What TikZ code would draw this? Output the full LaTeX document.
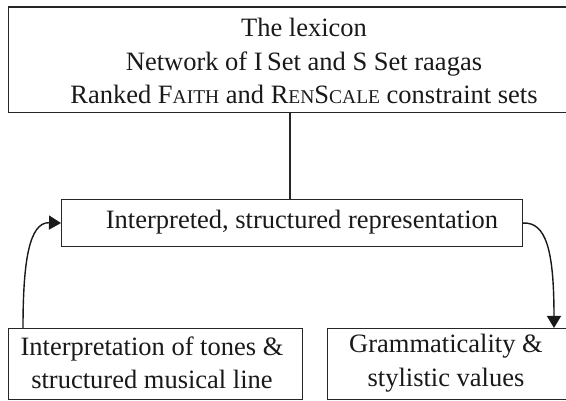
\documentclass[tikz,border=0pt]{standalone}
\usepackage{fontspec}
\setmainfont{Liberation Serif}
\usetikzlibrary{arrows.meta}
% fake small capitals for the constraint names
\newcommand\smallcapsfake[1]{{\fontsize{19.5}{20}\selectfont #1}}
\begin{document}
\begin{tikzpicture}[x=1pt,y=-1pt,
  box/.style={draw=black!85,line width=1.1pt,inner sep=0pt,anchor=north west},
  label/.style={font=\fontsize{26.5}{33.5}\selectfont,inner sep=0pt,align=center,text=black!90},
  flow/.style={draw=black!90,line width=1.4pt,-{Triangle[length=12pt,width=14pt]}}]
\useasboundingbox (0,0) rectangle (566,401);
\clip (0,0) rectangle (566,401);
% boxes
\node[box,minimum width=596pt,minimum height=105.5pt] (lex) at (7.5,6.5) {};
\node[box,minimum width=461pt,minimum height=47pt] (rep) at (61,199) {};
\node[box,minimum width=294pt,minimum height=71pt] (inp) at (8,328) {};
\node[box,minimum width=240pt,minimum height=71pt] (out) at (327,328) {};
% texts
\node[label] (lextext) at (304,61) {The lexicon\\Network of I\,Set and S Set raagas\\Ranked F\smallcapsfake{AITH} and R\smallcapsfake{EN}S\smallcapsfake{CALE} constraint sets};
\node[label] (reptext) at (302,222) {Interpreted, structured representation};
\node[label] (inptext) at (152,363) {Interpretation of tones \&\\structured musical line};
\node[label] (outtext) at (446,363) {Grammaticality \&\\stylistic values};
% connectors
\coordinate (stem) at (290,0);
\draw[draw=black!85,line width=1.1pt] (lex.south -| stem) -- (rep.north -| stem);
\coordinate (up) at (23,0);
\coordinate (down) at (554,0);
\draw[flow] (inp.north -| up) .. controls (23,262) and (29,222) .. (rep.west);
\draw[flow] (rep.east) .. controls (546,222) and (554,250) .. (out.north -| down);
\end{tikzpicture}
\end{document}
